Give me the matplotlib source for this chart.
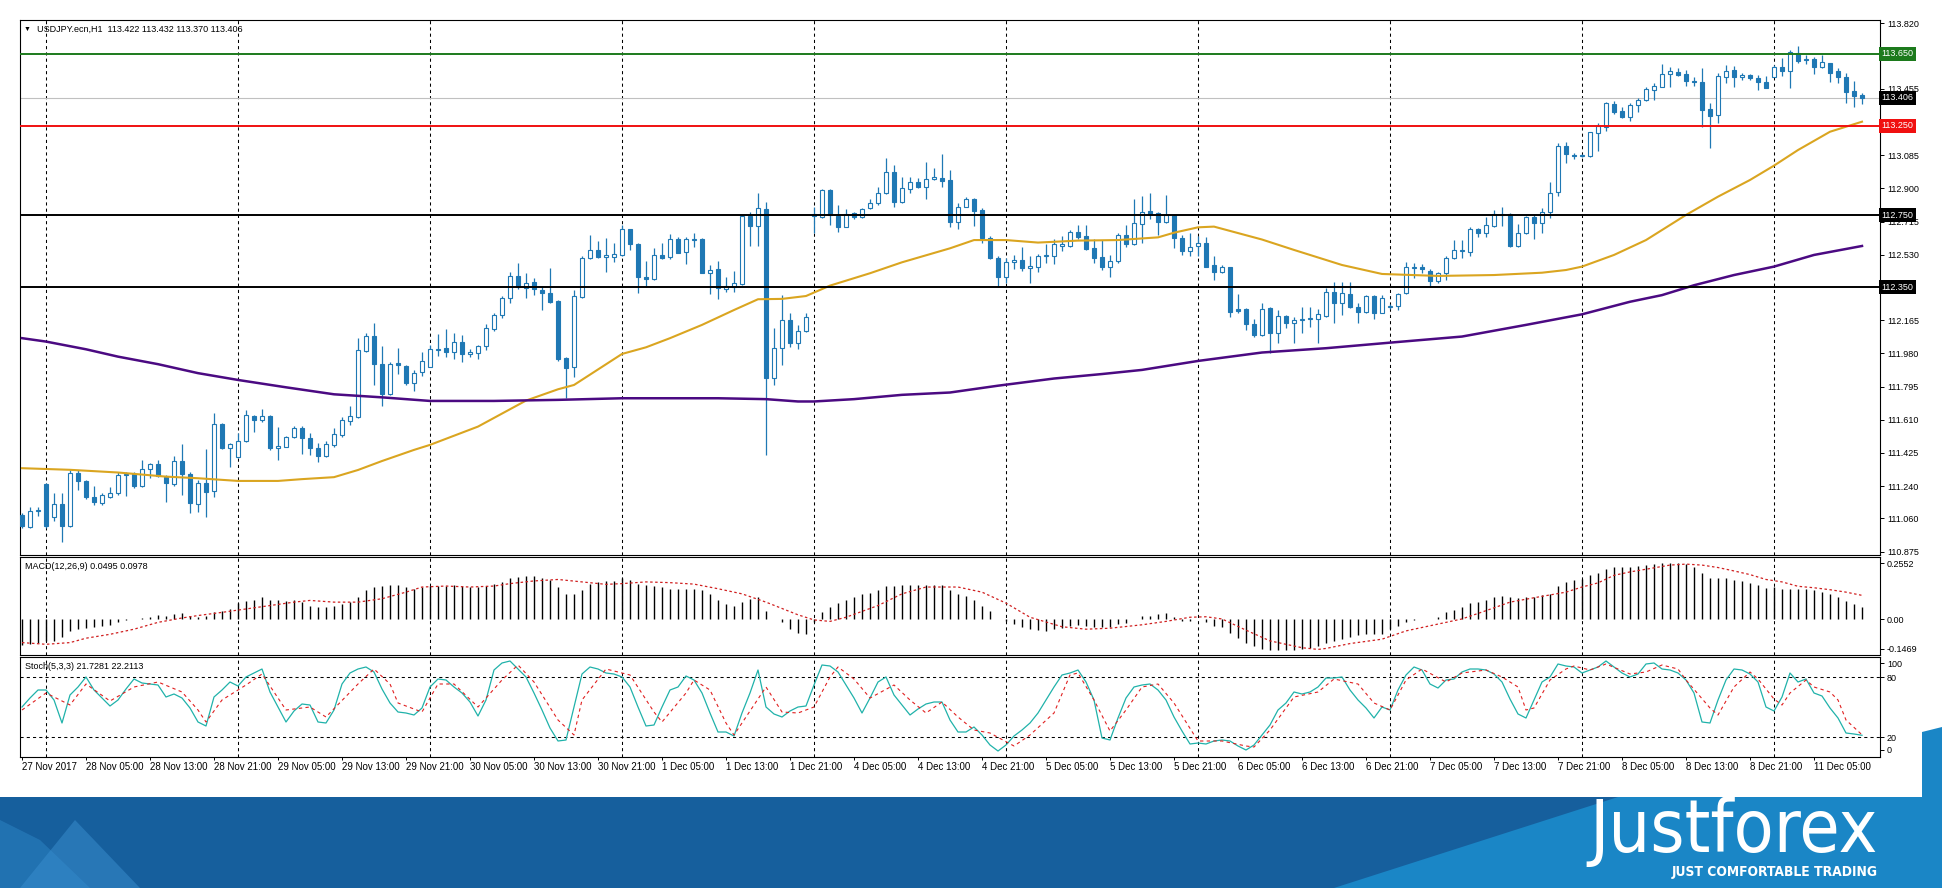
import os
import matplotlib
matplotlib.use('Agg')
import matplotlib.pyplot as plt
from matplotlib import font_manager
from matplotlib.font_manager import FontProperties
from matplotlib.patches import Polygon
import numpy as np

# ---- chart data (USDJPY H1, 27 Nov 21:00 .. 11 Dec 11:00) ----
opens = [111.080, 111.011, 111.104, 111.251, 111.067, 111.141, 111.015, 111.312, 111.269, 111.182,
         111.145, 111.182, 111.201, 111.303, 111.306, 111.238, 111.334, 111.364, 111.293, 111.251,
         111.381, 111.306, 111.141, 111.256, 111.214, 111.585, 111.451, 111.401, 111.494, 111.632,
         111.606, 111.632, 111.451, 111.460, 111.513, 111.563, 111.511, 111.451, 111.408, 111.470,
         111.525, 111.605, 111.628, 111.996, 112.077, 111.919, 111.752, 111.929, 111.910, 111.814,
         111.878, 111.906, 112.000, 112.009, 111.990, 112.046, 111.975, 111.981, 112.022, 112.114,
         112.194, 112.287, 112.412, 112.347, 112.376, 112.334, 112.315, 112.272, 111.957, 111.906,
         112.296, 112.510, 112.557, 112.516, 112.519, 112.529, 112.672, 112.588, 112.408, 112.393,
         112.529, 112.520, 112.618, 112.548, 112.613, 112.618, 112.431, 112.449, 112.339, 112.352,
         112.366, 112.746, 112.691, 112.784, 111.842, 112.009, 112.167, 112.037, 112.107, 112.746,
         112.739, 112.891, 112.746, 112.687, 112.761, 112.739, 112.789, 112.817, 112.873, 112.990,
         112.826, 112.897, 112.938, 112.910, 112.951, 112.960, 112.947, 112.715, 112.798, 112.839,
         112.780, 112.622, 112.510, 112.404, 112.492, 112.501, 112.454, 112.464, 112.525, 112.525,
         112.581, 112.581, 112.657, 112.635, 112.566, 112.516, 112.464, 112.497, 112.638, 112.590,
         112.701, 112.774, 112.765, 112.715, 112.752, 112.625, 112.553, 112.581, 112.594, 112.473,
         112.436, 112.460, 112.226, 112.226, 112.144, 112.083, 112.232, 112.096, 112.189, 112.152,
         112.167, 112.170, 112.170, 112.189, 112.321, 112.263, 112.310, 112.241, 112.213, 112.301,
         112.208, 112.237, 112.247, 112.315, 112.455, 112.460, 112.442, 112.381, 112.427, 112.511,
         112.553, 112.548, 112.672, 112.654, 112.693, 112.752, 112.756, 112.581, 112.650, 112.739,
         112.706, 112.771, 112.882, 113.139, 113.086, 113.080, 113.080, 113.207, 113.240, 113.368,
         113.331, 113.296, 113.365, 113.393, 113.448, 113.467, 113.538, 113.550, 113.538, 113.499,
         113.495, 113.341, 113.309, 113.523, 113.560, 113.519, 113.532, 113.517, 113.495, 113.523,
         113.578, 113.556, 113.656, 113.623, 113.621, 113.575, 113.597, 113.554, 113.519, 113.443,
         113.422]
highs = [111.089, 111.126, 111.126, 111.256, 111.201, 111.204, 111.330, 111.330, 111.275, 111.241,
         111.204, 111.234, 111.321, 111.321, 111.316, 111.386, 111.368, 111.383, 111.303, 111.409,
         111.474, 111.321, 111.275, 111.448, 111.647, 111.591, 111.483, 111.535, 111.665, 111.637,
         111.669, 111.637, 111.572, 111.520, 111.576, 111.576, 111.535, 111.483, 111.489, 111.563,
         111.628, 111.687, 112.064, 112.092, 112.152, 112.022, 111.934, 112.009, 111.916, 111.888,
         111.990, 112.027, 112.088, 112.114, 112.096, 112.083, 112.003, 112.027, 112.144, 112.207,
         112.300, 112.436, 112.482, 112.430, 112.402, 112.356, 112.454, 112.278, 111.962, 112.334,
         112.523, 112.640, 112.609, 112.622, 112.594, 112.696, 112.676, 112.594, 112.497, 112.566,
         112.594, 112.644, 112.631, 112.631, 112.653, 112.622, 112.473, 112.497, 112.408, 112.442,
         112.752, 112.771, 112.876, 112.826, 112.120, 112.306, 112.208, 112.139, 112.208, 112.798,
         112.895, 112.895, 112.808, 112.784, 112.771, 112.789, 112.839, 112.910, 113.072, 113.031,
         112.966, 112.966, 112.956, 113.046, 113.012, 113.092, 113.003, 112.820, 112.850, 112.848,
         112.789, 112.635, 112.523, 112.510, 112.529, 112.575, 112.523, 112.534, 112.590, 112.616,
         112.635, 112.668, 112.696, 112.696, 112.616, 112.612, 112.529, 112.650, 112.696, 112.839,
         112.858, 112.872, 112.770, 112.863, 112.757, 112.640, 112.653, 112.635, 112.627, 112.523,
         112.473, 112.464, 112.311, 112.231, 112.170, 112.263, 112.241, 112.223, 112.195, 112.185,
         112.241, 112.237, 112.226, 112.343, 112.380, 112.380, 112.380, 112.263, 112.306, 112.306,
         112.306, 112.256, 112.319, 112.492, 112.486, 112.479, 112.449, 112.436, 112.523, 112.613,
         112.613, 112.687, 112.678, 112.739, 112.780, 112.798, 112.761, 112.702, 112.746, 112.752,
         112.789, 112.938, 113.151, 113.161, 113.099, 113.092, 113.216, 113.263, 113.383, 113.389,
         113.352, 113.374, 113.402, 113.463, 113.489, 113.591, 113.578, 113.569, 113.560, 113.523,
         113.569, 113.378, 113.541, 113.588, 113.582, 113.541, 113.538, 113.532, 113.526, 113.588,
         113.625, 113.671, 113.694, 113.643, 113.634, 113.643, 113.601, 113.569, 113.541, 113.500,
         113.432]
lows = [111.006, 111.005, 111.071, 111.006, 111.043, 110.931, 111.011, 111.219, 111.167, 111.136,
        111.136, 111.173, 111.191, 111.186, 111.228, 111.234, 111.284, 111.290, 111.154, 111.241,
        111.191, 111.089, 111.098, 111.067, 111.178, 111.446, 111.349, 111.396, 111.488, 111.544,
        111.600, 111.442, 111.383, 111.457, 111.507, 111.420, 111.414, 111.377, 111.405, 111.460,
        111.516, 111.581, 111.622, 111.990, 111.804, 111.687, 111.748, 111.866, 111.804, 111.773,
        111.854, 111.903, 111.966, 111.962, 111.947, 111.934, 111.958, 111.949, 112.000, 112.107,
        112.179, 112.263, 112.337, 112.287, 112.306, 112.222, 112.259, 111.940, 111.730, 111.851,
        112.287, 112.506, 112.510, 112.436, 112.492, 112.523, 112.557, 112.319, 112.352, 112.390,
        112.509, 112.505, 112.538, 112.477, 112.575, 112.427, 112.312, 112.282, 112.325, 112.325,
        112.362, 112.579, 112.579, 111.414, 111.804, 111.916, 112.018, 112.003, 112.102, 112.650,
        112.733, 112.696, 112.659, 112.683, 112.728, 112.733, 112.784, 112.808, 112.869, 112.795,
        112.821, 112.873, 112.901, 112.839, 112.947, 112.910, 112.683, 112.672, 112.794, 112.690,
        112.594, 112.505, 112.356, 112.375, 112.449, 112.441, 112.375, 112.436, 112.486, 112.479,
        112.553, 112.575, 112.616, 112.557, 112.482, 112.445, 112.408, 112.482, 112.575, 112.584,
        112.594, 112.728, 112.640, 112.709, 112.566, 112.529, 112.523, 112.523, 112.460, 112.389,
        112.430, 112.185, 112.207, 112.111, 112.074, 112.077, 111.981, 112.037, 112.120, 112.037,
        112.092, 112.130, 112.037, 112.185, 112.148, 112.195, 112.232, 112.148, 112.204, 112.170,
        112.204, 112.226, 112.223, 112.312, 112.399, 112.427, 112.353, 112.375, 112.390, 112.505,
        112.511, 112.523, 112.631, 112.628, 112.687, 112.691, 112.572, 112.575, 112.646, 112.616,
        112.654, 112.733, 112.858, 113.040, 113.062, 113.073, 113.077, 113.110, 113.222, 113.315,
        113.290, 113.277, 113.328, 113.389, 113.393, 113.463, 113.463, 113.526, 113.471, 113.471,
        113.240, 113.127, 113.266, 113.485, 113.467, 113.504, 113.504, 113.448, 113.458, 113.519,
        113.526, 113.458, 113.597, 113.593, 113.537, 113.569, 113.495, 113.489, 113.378, 113.355,
        113.370]
closes = [111.015, 111.104, 111.108, 111.015, 111.141, 111.015, 111.312, 111.266, 111.182, 111.154,
          111.191, 111.201, 111.303, 111.308, 111.238, 111.336, 111.362, 111.297, 111.256, 111.381,
          111.306, 111.145, 111.256, 111.210, 111.585, 111.455, 111.476, 111.494, 111.637, 111.606,
          111.632, 111.451, 111.464, 111.513, 111.563, 111.507, 111.451, 111.408, 111.474, 111.529,
          111.609, 111.631, 112.000, 112.077, 111.919, 111.752, 111.919, 111.916, 111.814, 111.869,
          111.938, 112.003, 112.007, 111.990, 112.046, 111.975, 111.986, 112.023, 112.120, 112.194,
          112.287, 112.414, 112.349, 112.374, 112.337, 112.315, 112.269, 111.949, 111.901, 112.300,
          112.514, 112.557, 112.516, 112.529, 112.532, 112.672, 112.590, 112.404, 112.393, 112.529,
          112.514, 112.618, 112.542, 112.618, 112.618, 112.431, 112.445, 112.343, 112.356, 112.371,
          112.746, 112.691, 112.789, 111.842, 112.009, 112.167, 112.040, 112.107, 112.185, 112.758,
          112.891, 112.752, 112.687, 112.756, 112.743, 112.785, 112.817, 112.873, 112.990, 112.826,
          112.901, 112.938, 112.910, 112.951, 112.966, 112.943, 112.715, 112.798, 112.839, 112.776,
          112.622, 112.510, 112.404, 112.492, 112.501, 112.454, 112.467, 112.525, 112.529, 112.588,
          112.588, 112.657, 112.627, 112.560, 112.514, 112.460, 112.495, 112.638, 112.590, 112.705,
          112.770, 112.757, 112.715, 112.752, 112.622, 112.553, 112.575, 112.594, 112.464, 112.436,
          112.460, 112.213, 112.218, 112.144, 112.083, 112.226, 112.096, 112.189, 112.152, 112.167,
          112.172, 112.176, 112.200, 112.321, 112.260, 112.315, 112.241, 112.213, 112.301, 112.208,
          112.288, 112.245, 112.310, 112.460, 112.460, 112.449, 112.381, 112.427, 112.511, 112.557,
          112.557, 112.674, 112.654, 112.696, 112.756, 112.758, 112.581, 112.650, 112.739, 112.706,
          112.771, 112.877, 113.139, 113.090, 113.080, 113.084, 113.212, 113.250, 113.374, 113.328,
          113.296, 113.365, 113.393, 113.454, 113.471, 113.538, 113.554, 113.532, 113.499, 113.493,
          113.337, 113.303, 113.526, 113.554, 113.519, 113.532, 113.513, 113.491, 113.461, 113.578,
          113.556, 113.662, 113.612, 113.617, 113.575, 113.606, 113.545, 113.523, 113.439, 113.415,
          113.406]

# moving averages, read at selected bars
ma_fast_idx = [0, 6, 12, 18, 22, 27, 32, 35, 39, 42, 45, 49, 51, 57, 63, 67, 69, 75, 78, 81, 85, 89,
               92, 95, 98, 101, 106, 110, 116, 119, 123, 127, 132, 137, 142, 144, 147, 149, 155, 159,
               165, 170, 177, 184, 190, 193, 195, 199, 203, 208, 212, 216, 219, 222, 226, 230]
ma_fast = [111.340, 111.331, 111.316, 111.293, 111.284, 111.269, 111.269, 111.279, 111.290, 111.330,
           111.380, 111.442, 111.470, 111.572, 111.717, 111.780, 111.804, 111.977, 112.014, 112.065,
           112.139, 112.222, 112.282, 112.284, 112.300, 112.358, 112.427, 112.488, 112.566, 112.612,
           112.612, 112.598, 112.609, 112.612, 112.627, 112.653, 112.683, 112.687, 112.615, 112.557,
           112.473, 112.423, 112.412, 112.417, 112.430, 112.445, 112.464, 112.529, 112.612, 112.752,
           112.854, 112.947, 113.027, 113.114, 113.216, 113.272]
ma_slow_idx = [0, 3, 8, 12, 17, 22, 27, 33, 39, 45, 51, 59, 67, 75, 87, 93, 97, 99, 104, 110, 116,
               122, 129, 135, 140, 147, 155, 163, 171, 180, 188, 195, 201, 205, 209, 214, 219, 224, 230]
ma_slow = [112.065, 112.046, 112.003, 111.962, 111.920, 111.870, 111.832, 111.791, 111.752, 111.735,
           111.715, 111.715, 111.721, 111.730, 111.730, 111.725, 111.712, 111.712, 111.725, 111.749,
           111.762, 111.800, 111.840, 111.865, 111.888, 111.938, 111.985, 112.009, 112.040, 112.074,
           112.139, 112.198, 112.268, 112.305, 112.360, 112.417, 112.464, 112.529, 112.579]

# MACD(12,26,9) histogram per bar and signal line
macd = [-0.106, -0.103, -0.096, -0.089, -0.089, -0.075, -0.048, -0.041, -0.037, -0.034,
        -0.027, -0.024, -0.013, -0.003, 0.001, 0.005, 0.010, 0.019, 0.015, 0.021,
        0.024, 0.015, 0.010, 0.015, 0.028, 0.033, 0.042, 0.066, 0.073, 0.080,
        0.091, 0.080, 0.077, 0.074, 0.077, 0.070, 0.056, 0.049, 0.049, 0.056,
        0.063, 0.070, 0.093, 0.121, 0.132, 0.135, 0.139, 0.139, 0.132, 0.125,
        0.132, 0.135, 0.135, 0.135, 0.139, 0.135, 0.132, 0.132, 0.135, 0.146,
        0.153, 0.171, 0.174, 0.176, 0.176, 0.167, 0.160, 0.132, 0.102, 0.104,
        0.121, 0.143, 0.153, 0.157, 0.157, 0.167, 0.160, 0.146, 0.139, 0.135,
        0.132, 0.125, 0.125, 0.125, 0.125, 0.118, 0.104, 0.080, 0.063, 0.056,
        0.070, 0.084, 0.091, 0.035, 0.001, -0.013, -0.041, -0.055, -0.059, -0.013,
        0.028, 0.049, 0.066, 0.077, 0.091, 0.104, 0.107, 0.121, 0.135, 0.135,
        0.139, 0.142, 0.139, 0.139, 0.142, 0.139, 0.118, 0.104, 0.097, 0.080,
        0.056, 0.035, 0.001, -0.006, -0.020, -0.034, -0.041, -0.045, -0.048, -0.041,
        -0.037, -0.027, -0.023, -0.027, -0.031, -0.034, -0.031, -0.020, -0.017, 0.001,
        0.015, 0.015, 0.021, 0.024, 0.008, -0.006, -0.006, 0.001, -0.013, -0.027,
        -0.031, -0.055, -0.076, -0.096, -0.110, -0.124, -0.128, -0.128, -0.128, -0.128,
        -0.124, -0.117, -0.110, -0.096, -0.089, -0.082, -0.073, -0.064, -0.062, -0.062,
        -0.059, -0.041, -0.027, -0.013, -0.003, 0.001, 0.001, 0.008, 0.028, 0.038,
        0.052, 0.066, 0.070, 0.077, 0.091, 0.097, 0.090, 0.087, 0.093, 0.093,
        0.098, 0.104, 0.135, 0.153, 0.160, 0.163, 0.183, 0.190, 0.205, 0.215,
        0.215, 0.215, 0.218, 0.222, 0.226, 0.232, 0.232, 0.229, 0.226, 0.215,
        0.190, 0.171, 0.171, 0.167, 0.160, 0.157, 0.149, 0.142, 0.129, 0.132,
        0.125, 0.125, 0.125, 0.125, 0.118, 0.111, 0.104, 0.091, 0.074, 0.063,
        0.0495]
macd_sig_idx = [0, 3, 6, 8, 11, 14, 17, 20, 22, 25, 28, 31, 34, 36, 39, 42, 45, 48, 50, 53, 56, 59,
                61, 64, 67, 70, 73, 75, 78, 81, 84, 87, 90, 93, 97, 99, 101, 103, 107, 110, 113, 117,
                120, 123, 126, 130, 133, 136, 140, 143, 146, 148, 150, 153, 156, 160, 162, 163, 166,
                170, 173, 176, 180, 183, 186, 189, 193, 195, 197, 199, 201, 203, 206, 208, 210, 212,
                214, 216, 218, 220, 222, 224, 226, 228, 230]
macd_sig = [-0.096, -0.103, -0.096, -0.078, -0.062, -0.041, -0.013, 0.005, 0.015, 0.028, 0.042,
            0.056, 0.070, 0.077, 0.070, 0.070, 0.084, 0.111, 0.132, 0.136, 0.132, 0.136, 0.146,
            0.157, 0.163, 0.153, 0.143, 0.146, 0.153, 0.150, 0.144, 0.125, 0.104, 0.070, 0.018,
            -0.003, -0.009, 0.008, 0.056, 0.104, 0.132, 0.132, 0.111, 0.066, 0.008, -0.031, -0.041,
            -0.037, -0.023, -0.009, 0.008, 0.010, 0.001, -0.045, -0.089, -0.117, -0.124, -0.120,
            -0.100, -0.082, -0.048, -0.027, 0.001, 0.035, 0.070, 0.088, 0.111, 0.132, 0.149, 0.180,
            0.194, 0.205, 0.222, 0.226, 0.222, 0.212, 0.198, 0.183, 0.163, 0.153, 0.135, 0.129,
            0.121, 0.111, 0.0978]

# Stochastic(5,3,3) main line per bar and signal line
stoch_main = [50, 59, 67, 67, 57, 34, 62, 70, 80, 67, 59, 51, 57, 68, 78, 74, 73, 72, 60, 63,
              59, 49, 35, 31, 60, 67, 75, 71, 80, 84, 88, 65, 50, 35, 46, 53, 52, 35, 34, 47,
              73, 84, 88, 90, 85, 68, 54, 45, 44, 42, 49, 70, 78, 77, 70, 64, 55, 41, 57, 87,
              94, 96, 88, 80, 64, 47, 29, 16, 17, 50, 83, 90, 88, 84, 83, 80, 70, 50, 31, 32,
              50, 67, 70, 81, 77, 64, 44, 25, 25, 21, 44, 64, 87, 50, 43, 40, 46, 50, 51, 72,
              92, 91, 85, 72, 59, 44, 59, 75, 80, 62, 52, 42, 48, 53, 55, 55, 37, 25, 25, 30,
              22, 12, 6, 12, 21, 27, 34, 44, 57, 70, 82, 84, 87, 75, 57, 19, 17, 39, 59, 70,
              72, 73, 67, 57, 40, 26, 13, 14, 13, 16, 17, 16, 11, 7, 12, 22, 32, 47, 54, 65,
              63, 65, 70, 79, 79, 80, 67, 57, 49, 39, 50, 47, 67, 82, 90, 87, 73, 69, 77, 78,
              85, 88, 88, 87, 83, 75, 58, 43, 39, 57, 75, 80, 93, 91, 90, 84, 87, 90, 96, 90,
              84, 80, 83, 93, 94, 88, 87, 84, 77, 64, 35, 34, 57, 77, 88, 87, 83, 75, 50, 46,
              60, 84, 75, 78, 64, 61, 49, 39, 24, 23, 21.7281]
stoch_sig_idx = [0, 3, 6, 8, 11, 14, 17, 20, 22, 23, 25, 28, 30, 33, 36, 38, 42, 44, 46, 47, 50,
                 52, 54, 57, 60, 62, 64, 67, 69, 70, 73, 76, 79, 80, 83, 84, 86, 88, 89, 90, 93,
                 95, 97, 99, 101, 102, 104, 106, 109, 111, 113, 115, 117, 119, 121, 124, 126, 129,
                 131, 132, 134, 136, 138, 140, 142, 144, 147, 150, 153, 154, 156, 159, 162, 164,
                 167, 169, 171, 173, 175, 178, 180, 183, 185, 187, 188, 189, 191, 193, 194, 196,
                 198, 201, 203, 205, 207, 208, 211, 212, 214, 216, 217, 219, 220, 221, 223, 224,
                 226, 227, 228, 230]
stoch_sig = [47, 64, 52, 73, 56, 70, 75, 65, 47, 35, 57, 72, 83, 47, 50, 40, 73, 88, 73, 54, 45,
             73, 73, 50, 77, 92, 75, 37, 22, 57, 88, 82, 45, 35, 64, 77, 67, 34, 22, 34, 70,
             45, 44, 50, 80, 90, 78, 59, 72, 57, 44, 55, 40, 27, 24, 11, 22, 44,
             82, 84, 57, 26, 47, 70, 73, 54, 16, 16, 11, 10, 27, 60, 65, 78,
             73, 54, 47, 77, 88, 75, 84, 87, 80, 70, 47, 49, 77, 88, 91, 87,
             93, 83, 85, 92, 88, 77, 49, 42, 70, 85, 78, 58, 52, 64, 77, 70,
             65, 57, 37, 22.2113]

time_labels = ['27 Nov 2017', '28 Nov 05:00', '28 Nov 13:00', '28 Nov 21:00', '29 Nov 05:00',
               '29 Nov 13:00', '29 Nov 21:00', '30 Nov 05:00', '30 Nov 13:00', '30 Nov 21:00',
               '1 Dec 05:00', '1 Dec 13:00', '1 Dec 21:00', '4 Dec 05:00', '4 Dec 13:00',
               '4 Dec 21:00', '5 Dec 05:00', '5 Dec 13:00', '5 Dec 21:00', '6 Dec 05:00',
               '6 Dec 13:00', '6 Dec 21:00', '7 Dec 05:00', '7 Dec 13:00', '7 Dec 21:00',
               '8 Dec 05:00', '8 Dec 13:00', '8 Dec 21:00', '11 Dec 05:00']
day_start_bars = [3, 27, 51, 75, 99, 123, 147, 171, 195, 219]
price_ticks = [113.820, 113.455, 113.085, 112.900, 112.715, 112.530, 112.165, 111.980,
               111.795, 111.610, 111.425, 111.240, 111.060, 110.875]
level_prices = [113.650, 113.250, 112.750, 112.350]
level_colors = ['#1c7a1c', '#f01010', 'black', 'black']
last_price = 113.406

# ---- layout (pixel based) ----
W, H = 1942, 888
CANDLE = '#1f78b4'
plt.rcParams['font.family'] = ['Liberation Sans', 'DejaVu Sans']
plt.rcParams['font.size'] = 6.5


def condensed_font(bold):
    # look for any installed narrow / condensed face for the logo
    want = 700 if bold else 400
    for f in font_manager.fontManager.ttflist:
        base = os.path.basename(f.fname)
        narrow = ('Condensed' in base or 'Narrow' in base or 'Narrow' in f.name
                  or f.stretch in ('condensed', 'semi-condensed'))
        if narrow and f.weight == want and 'Italic' not in base and 'Oblique' not in base:
            return FontProperties(fname=f.fname)
    return FontProperties(family='Liberation Sans', weight='bold' if bold else 'normal')


def rect(x0, y0, x1, y1):
    return [x0 / W, 1 - y1 / H, (x1 - x0) / W, (y1 - y0) / H]


def px(x, y):
    return x / W, 1 - y / H


fig = plt.figure(figsize=(W / 100, H / 100), dpi=100)
fig.patch.set_facecolor('white')

# banner in the background
bg = fig.add_axes([0, 0, 1, 1], zorder=-5)
bg.set_xlim(0, W)
bg.set_ylim(H, 0)
bg.axis('off')
bg.add_patch(Polygon([(0, 797), (W, 797), (W, H), (0, H)], closed=True, fc='#165f9d', ec='none'))
bg.add_patch(Polygon([(1618, 797), (W, 797), (W, H), (1334, H)], closed=True, fc='#1a86c6', ec='none'))
bg.add_patch(Polygon([(1922, 732), (W, 727), (W, 797), (1922, 797)], closed=True, fc='#1a86c6', ec='none'))
bg.add_patch(Polygon([(0, 820), (40, 840), (90, 888), (0, 888)], closed=True, fc='#2a7fc0', ec='none', alpha=0.6))
bg.add_patch(Polygon([(20, 888), (75, 820), (140, 888)], closed=True, fc='#3a8fd0', ec='none', alpha=0.5))

logo_fp = condensed_font(False)
tag_fp = condensed_font(True)
logo = fig.text(1878 / W, 1 - 852 / H, 'Justforex', color='white', ha='right', va='baseline',
                fontproperties=logo_fp, fontsize=50)
tag = fig.text(1878 / W, 1 - 876 / H, 'JUST COMFORTABLE TRADING', color='white', ha='right',
               va='baseline', fontproperties=tag_fp, fontsize=10)

ax = fig.add_axes(rect(20, 20, 1880, 555))
ax_macd = fig.add_axes(rect(20, 557, 1880, 655))
ax_st = fig.add_axes(rect(20, 657, 1880, 757))

x = np.arange(len(opens))
o = np.array(opens)
c = np.array(closes)
up = c >= o
bottom = np.minimum(o, c)
height = np.maximum(np.abs(c - o), 0.002)

for a in (ax, ax_macd, ax_st):
    a.set_xlim(-0.25, 232.25)
    for s in a.spines.values():
        s.set_linewidth(0.8)
        s.set_color('black')
    for b in day_start_bars:
        a.axvline(b, color='black', lw=0.75, ls=(0, (3, 3)), zorder=1)
    a.yaxis.tick_right()
    a.tick_params(axis='y', direction='out', length=3, width=0.7, pad=2, labelsize=6.5)
    a.tick_params(axis='x', bottom=False, labelbottom=False)

# main price panel
ax.set_ylim(110.856, 113.839)
ax.vlines(x, lows, highs, color=CANDLE, lw=0.9, zorder=2)
ax.bar(x[up], height[up], bottom=bottom[up], width=0.6, facecolor='white',
       edgecolor=CANDLE, lw=0.8, zorder=3)
ax.bar(x[~up], height[~up], bottom=bottom[~up], width=0.6, facecolor=CANDLE,
       edgecolor=CANDLE, lw=0.8, zorder=3)
ax.plot(ma_fast_idx, ma_fast, color='#daa520', lw=1.5, zorder=4)
ax.plot(ma_slow_idx, ma_slow, color='#4b0a82', lw=1.8, zorder=4)
ax.axhline(last_price, color='#c0c0c0', lw=0.8, zorder=1.5)
for lv, col in zip(level_prices, level_colors):
    ax.axhline(lv, color=col, lw=1.4, zorder=5)
ax.set_yticks(price_ticks)
ax.set_yticklabels([f'{p:.3f}' for p in price_ticks])

tr = ax.get_yaxis_transform()
for lv, col in zip(level_prices + [last_price], level_colors + ['black']):
    ax.text(1.0006, lv, f'{lv:.3f}', transform=tr, color='white', fontsize=6.5, va='center',
            ha='left', zorder=10, clip_on=False,
            bbox=dict(boxstyle='square,pad=0.28', fc=col, ec='none'))

fig.text(*px(24, 29), '\u25bc', fontsize=5, va='center', ha='left')
fig.text(*px(37, 29), 'USDJPY.ecn,H1  113.422 113.432 113.370 113.406', va='center', ha='left')

# MACD panel
ax_macd.set_ylim(-0.1469, 0.2552)
ax_macd.vlines(x, 0, macd, color='black', lw=1.0, zorder=2)
ax_macd.plot(macd_sig_idx, macd_sig, color='#d02020', lw=0.9, ls=(0, (2, 2)), zorder=3)
ax_macd.set_yticks([0.230, 0.0, -0.121])
ax_macd.set_yticklabels(['0.2552', '0.00', '-0.1469'])
fig.text(*px(25, 566), 'MACD(12,26,9) 0.0495 0.0978', va='center', ha='left')

# Stochastic panel
ax_st.set_ylim(0, 100)
ax_st.axhline(80, color='black', lw=0.75, ls=(0, (3, 3)), zorder=1)
ax_st.axhline(20, color='black', lw=0.75, ls=(0, (3, 3)), zorder=1)
ax_st.plot(x, stoch_main, color='#20b2aa', lw=0.9, zorder=3)
ax_st.plot(stoch_sig_idx, stoch_sig, color='#e02020', lw=0.8, ls=(0, (3, 3)), zorder=3)
ax_st.set_yticks([93.6, 80, 20, 7.4])
ax_st.set_yticklabels(['100', '80', '20', '0'])
fig.text(*px(25, 666), 'Stoch(5,3,3) 21.7281 22.2113', va='center', ha='left')

ax_st.tick_params(axis='x', bottom=True, labelbottom=True, length=2, width=0.7, pad=1.5,
                  labelsize=7)
ax_st.set_xticks(list(range(0, 8 * len(time_labels), 8)))
ax_st.set_xticklabels(time_labels)
for lab in ax_st.get_xticklabels():
    lab.set_ha('left')

# fit the logo texts to their widths in the reference
renderer = fig.canvas.get_renderer()
for t, target in ((logo, 289), (tag, 206)):
    w = t.get_window_extent(renderer).width
    t.set_fontsize(t.get_fontsize() * target / w)

fig.savefig('out.png', dpi=100)
plt.close(fig)
